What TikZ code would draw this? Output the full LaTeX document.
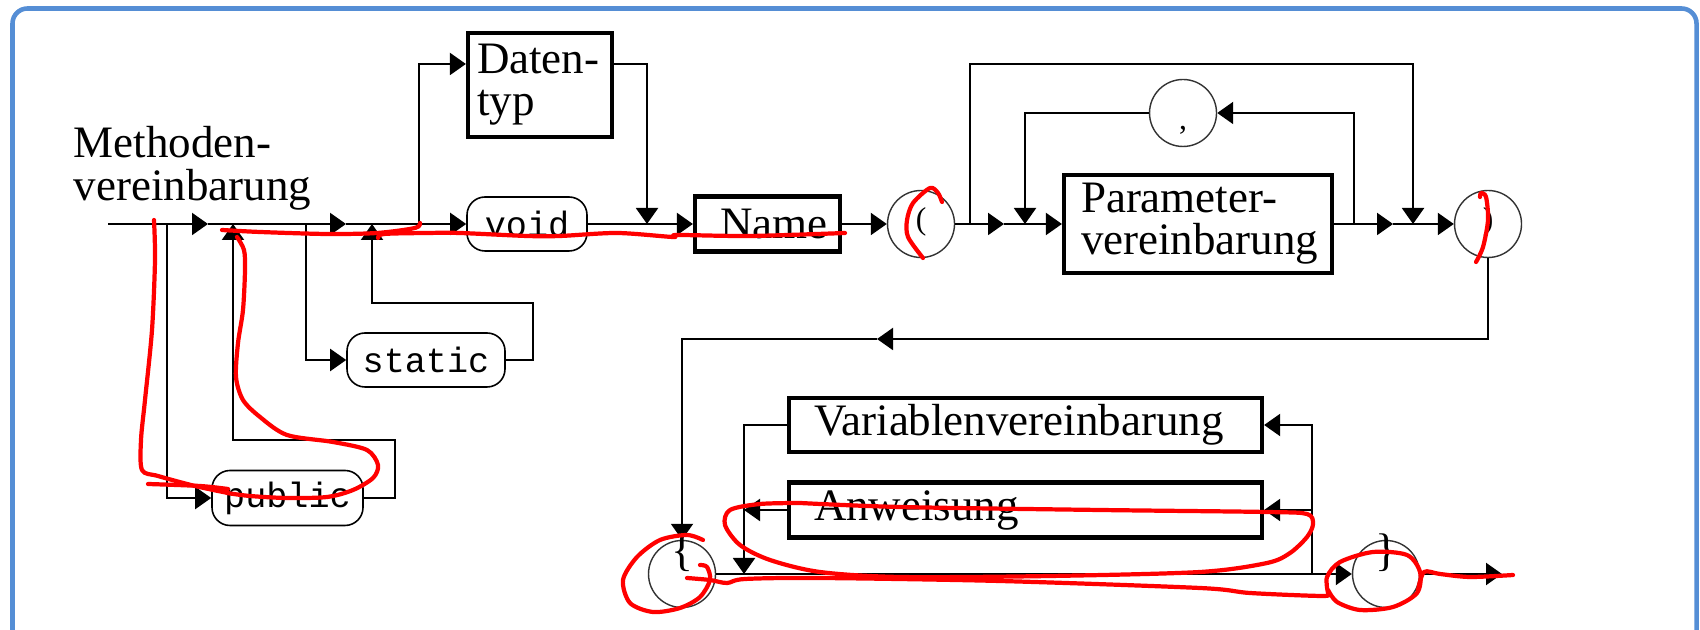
\documentclass[tikz,border=0pt]{standalone}
\usepackage{fontspec}
\setmainfont{Liberation Serif}
\setmonofont{Liberation Mono}
\usepackage{tikz}
\usetikzlibrary{arrows.meta}
\definecolor{framebl}{RGB}{85,142,213}
\definecolor{markred}{RGB}{255,0,0}
\tikzstyle{conn}=[line width=0.6pt]
\tikzstyle{arr}=[conn, -{Triangle[length=1.6mm, width=2.2mm]}]
\tikzstyle{ntbox}=[draw, line width=1.2pt, inner ysep=0pt, align=left, font=\fontsize{12.8}{12}\selectfont]
\tikzstyle{tbox}=[draw, line width=0.45pt, rounded corners=1.8mm, inner sep=0pt, font=\ttfamily\fontsize{10}{12}\selectfont]
\tikzstyle{tcirc}=[draw=black!80, circle, line width=0.4pt, minimum size=6.7mm, inner sep=0pt, text height=3.2mm, text depth=2mm, font=\fontsize{9}{10}\selectfont]
\tikzstyle{bcirc}=[tcirc, text height=2mm, text depth=3.6mm, font=\fontsize{13}{14}\selectfont]
\tikzstyle{redline}=[draw=markred, line width=1.2pt, line cap=round, line join=round]

\begin{document}
\begin{tikzpicture}[x=0.1mm, y=-0.1mm]
    \useasboundingbox (0, 0) rectangle (1700, 630);
    \draw[framebl, line width=1.3pt, rounded corners=1.5mm] (12.5, 700) -- (12.5, 8.5) -- (1696.5, 8.5) -- (1696.5, 700);

    \node[anchor=north west, inner sep=0pt, align=left, font=\fontsize{12.8}{12}\selectfont] (title) at (73, 126) {Methoden-\\vereinbarung};

    \node[tbox, minimum width=15.1mm, minimum height=5.5mm] (public) at (287.5, 498) {public};
    \node[tbox, minimum width=15.8mm, minimum height=5.4mm] (static) at (426, 360) {static};
    \node[tbox, minimum width=12mm, minimum height=5.4mm] (void) at (527, 224) {void};
    \node[ntbox, text width=12.6mm, inner xsep=0.9mm, minimum height=10.4mm] (dtyp) at (540, 85) {Daten-\\typ};
    \node[ntbox, text width=9.5mm, inner xsep=2.5mm, minimum height=5.5mm] (name) at (767.5, 224) {Name};
    \node[tcirc] (lp) at (921, 224) {(};
    \node[ntbox, text width=23.4mm, inner xsep=1.7mm, minimum height=9.8mm] (param) at (1198, 224) {Parameter-\\vereinbarung};
    \node[tcirc, text height=3.9mm, text depth=0.5mm] (comma) at (1183, 113) {,};
    \node[tcirc] (rp) at (1488, 224) {)};
    \node[bcirc] (lb) at (682, 574) {\{};
    \node[ntbox, text width=42.3mm, inner xsep=2.5mm, minimum height=5.4mm] (vvar) at (1025.5, 425) {Variablenvereinbarung};
    \node[ntbox, text width=42.3mm, inner xsep=2.5mm, minimum height=5.5mm] (anw) at (1025.5, 510) {Anweisung};
    \node[bcirc] (rb) at (1386, 574) {\}};

    \coordinate (start) at (108, 224);
    \coordinate (jpub) at (167, 224);
    \coordinate (apub) at (208, 224);
    \coordinate (jpubr) at (233, 224);
    \coordinate (jsta) at (306, 224);
    \coordinate (asta) at (346, 224);
    \coordinate (jstar) at (372, 224);
    \coordinate (jdat) at (419, 224);
    \coordinate (jdatr) at (647, 224);
    \coordinate (pubr) at (395, 440);
    \coordinate (star) at (533, 303);
    \coordinate (toprow) at (0, 64);
    \coordinate (jopt) at (970, 224);
    \coordinate (aopt) at (1004, 224);
    \coordinate (jcom) at (1025, 224);
    \coordinate (jrep) at (1354, 224);
    \coordinate (arep) at (1393, 224);
    \coordinate (joptr) at (1413, 224);
    \coordinate (aret) at (877, 339);
    \coordinate (jloopin) at (744, 574);
    \coordinate (jloopout) at (1312, 574);
    \coordinate (fin) at (1502, 574);

    \draw[arr] (start) -- (apub);
    \draw[conn] (apub) -- (jsta);
    \draw[arr] (jsta) -- (asta);
    \draw[conn] (asta) -- (jdat);
    \draw[arr] (jdat) -- (void.west);
    \draw[arr] (void.east) -- (name.west);
    \draw[arr] (jpub) |- (public.west);
    \draw[arr] (public.east) -| (pubr) -| (jpubr);
    \draw[arr] (jsta) |- (static.west);
    \draw[arr] (static.east) -| (star) -| (jstar);
    \draw[arr] (jdat) |- (dtyp.west |- toprow);
    \draw[arr] (dtyp.east |- toprow) -| (jdatr);
    \draw[arr] (name.east) -- (lp.west);
    \draw[arr] (lp.east) -- (aopt);
    \draw[arr] (aopt) -- (param.west);
    \draw[arr] (jopt) |- (joptr |- toprow) -- (joptr);
    \draw[arr] (param.east) -- (arep);
    \draw[arr] (arep) -- (rp.west);
    \draw[arr] (jrep) |- (comma.east);
    \draw[arr] (comma.west) -| (jcom);
    \draw[arr] (rp.south) |- (aret);
    \draw[arr] (aret) -| (lb.north);
    \draw[arr] (lb.east) -- (rb.west);
    \draw[arr] (jloopout) |- (vvar.east);
    \draw[arr] (jloopout) |- (anw.east);
    \draw[arr] (vvar.west) -| (jloopin);
    \draw[arr] (anw.west) -- (anw.west -| jloopin);
    \draw[arr] (rb.east) -- (fin);

    \draw[redline] plot[smooth] coordinates {(154, 220) (155, 260) (152, 330) (145, 400) (141, 440) (142, 470) (158, 476) (195, 486) (228, 493)};
    \draw[redline] plot[smooth] coordinates {(148, 484) (200, 486) (228, 489)};
    \draw[redline] plot[smooth] coordinates {(237, 237) (244, 250) (245, 270) (243, 310) (238, 343) (236, 377) (243, 400) (260, 417) (287, 435) (333, 442) (367, 450) (378, 465) (373, 478) (353, 490) (327, 497) (287, 498) (250, 496) (227, 493)};
    \draw[redline] plot[smooth] coordinates {(222, 230) (260, 232) (327, 234) (377, 233) (415, 228) (420, 223)};
    \draw[redline] plot[smooth] coordinates {(378, 238) (384, 234) (427, 233) (460, 233) (527, 236) (560, 236) (617, 233) (673, 237) (677, 235) (750, 236) (845, 233)};
    \draw[redline] plot[smooth] coordinates {(923, 258) (908, 237) (907, 220) (913, 203) (930, 188) (938, 193) (942, 202)};
    \draw[redline] plot[smooth] coordinates {(1476, 262) (1483, 247) (1488, 220) (1486, 197) (1481, 193) (1480, 197)};
    \draw[redline] plot[smooth] coordinates {(700, 565) (707, 567) (710, 580) (700, 597) (680, 608) (653, 612) (630, 603) (623, 580) (637, 557) (660, 540) (687, 535) (703, 540)};
    \draw[redline] plot[smooth] coordinates {(687, 578) (710, 580) (727, 583) (745, 579) (820, 578) (1000, 581) (1200, 588) (1250, 593) (1323, 596) (1328, 593)};
    \draw[redline] plot[smooth] coordinates {(800, 503) (900, 507) (1100, 510) (1267, 512) (1307, 514) (1313, 524) (1307, 537) (1290, 553) (1267, 563) (1200, 572) (1050, 576) (900, 577) (820, 572) (770, 560) (740, 545) (725, 525) (730, 510) (760, 504) (800, 503)};
    \draw[redline] plot[smooth] coordinates {(1328, 593) (1327, 577) (1340, 562) (1373, 552) (1407, 555) (1420, 572) (1417, 593) (1393, 607) (1360, 610) (1337, 602) (1328, 590)};
    \draw[redline] plot[smooth] coordinates {(1418, 590) (1424, 572) (1440, 574) (1470, 577) (1513, 575)};
\end{tikzpicture}
\end{document}
